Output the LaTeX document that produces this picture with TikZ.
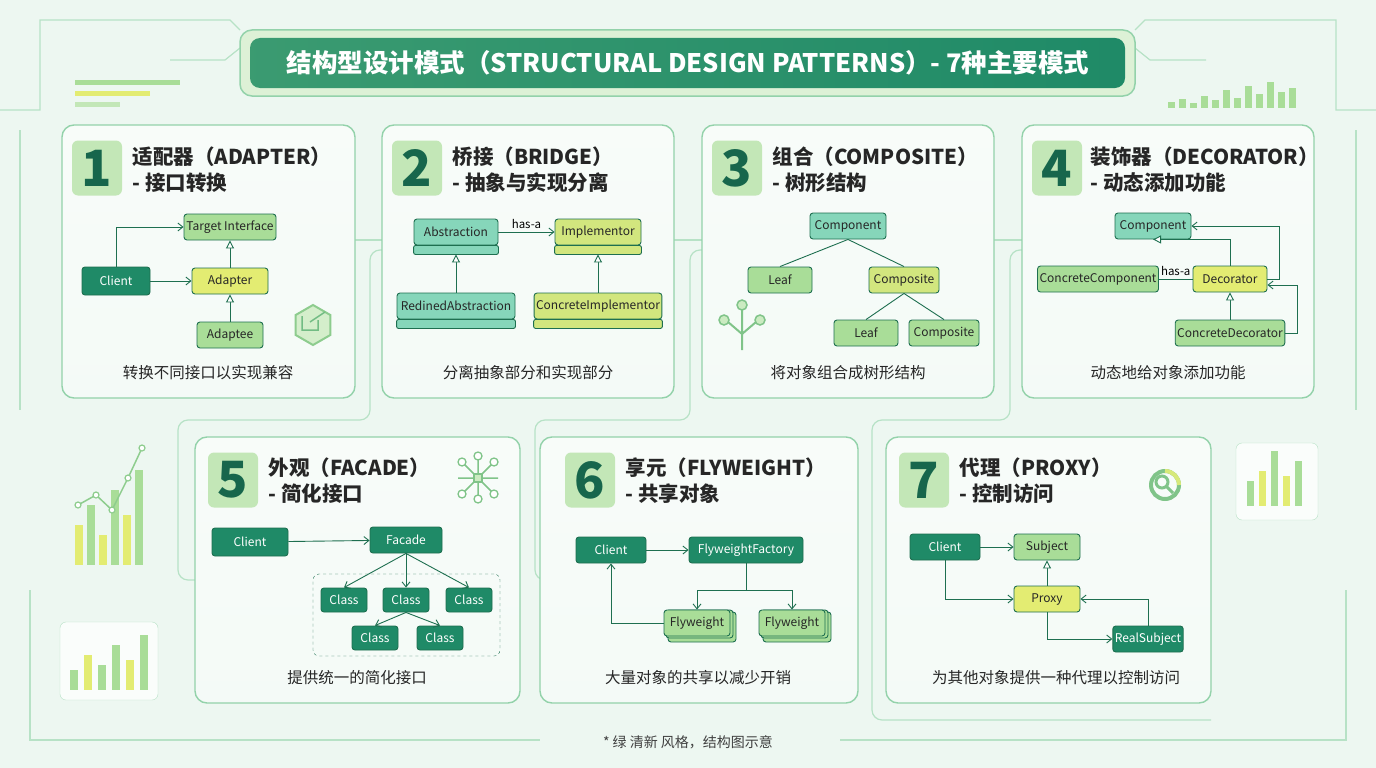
\documentclass[tikz,border=0pt]{standalone}
\usepackage{fontspec}
\setmainfont{Noto Sans CJK SC}
\usetikzlibrary{arrows.meta,positioning,calc,shapes.geometric}
\definecolor{dk}{HTML}{1F8A67}
\definecolor{dkb}{HTML}{17664C}
\definecolor{lg}{HTML}{A9DD98}
\definecolor{yl}{HTML}{E3EC72}
\definecolor{mt}{HTML}{86D6BA}
\definecolor{lm}{HTML}{D2E67E}
\definecolor{pb}{HTML}{93D2AA}
\definecolor{ln}{HTML}{1E6F50}
\definecolor{bg}{HTML}{EDF7F1}
\definecolor{deco}{HTML}{B7E2C6}
\tikzset{
 panel/.style={draw=pb,line width=1.4pt,rounded corners=12pt,top color=white!60!bg,bottom color=bg!90!pb!40},
 badge/.style={rounded corners=6pt,fill=lg!70!white,text=dkb,font=\fontsize{50}{50}\selectfont\bfseries,minimum width=50pt,minimum height=55pt,inner sep=0pt},
 ptitle/.style={anchor=west,font=\fontsize{20.5}{26}\selectfont\bfseries,text=black!85,align=left},
 captxt/.style={font=\fontsize{15.5}{18}\selectfont,text=black!85},
 bx/.style={draw=ln,line width=0.9pt,rounded corners=3pt,minimum height=26pt,inner sep=2pt,font=\fontsize{12}{13}\selectfont},
 dkbox/.style={bx,fill=dk,text=white},
 lgbox/.style={bx,fill=lg,text=black!85},
 ylbox/.style={bx,fill=yl,text=black!85},
 mtbox/.style={bx,fill=mt,text=black!85},
 lmbox/.style={bx,fill=lm,text=black!85},
 ar/.style={draw=ln,line width=0.9pt,-{Straight Barb[length=5pt,width=8pt]}},
 inh/.style={draw=ln,line width=0.9pt,-{Triangle[open,length=8pt,width=8pt,fill=white]}},
 pl/.style={draw=ln,line width=0.9pt},
 dl/.style={draw=deco,line width=1.2pt},
}
\begin{document}
\begin{tikzpicture}[x=1pt,y=-1pt]
\useasboundingbox (0,0) rectangle (1376,768);
\fill[bg] (0,0) rectangle (1376,768);
% decorative circuit lines
\draw[dl] (0,110) -- (40,110) -- (40,20) -- (230,20) -- (240,30);
\draw[dl] (20,130) -- (20,410) ; \draw[dl] (1356,130) -- (1356,410);
\draw[dl] (1376,110) -- (1336,110) -- (1336,20) -- (1145,20) -- (1135,30);
\draw[dl] (170,60) -- (225,60) -- (240,48); \draw[dl] (1206,60) -- (1150,60) -- (1135,48);
\draw[dl] (30,590) -- (30,740) -- (540,740); \draw[dl] (1346,590) -- (1346,740) -- (840,740);
\fill[lg] (75,80) rectangle (180,85); \fill[yl] (75,91) rectangle (150,96); \fill[lg!70] (75,102) rectangle (120,107);
\foreach \i/\h in {0/6,1/9,2/5,3/12,4/8,5/18,6/10,7/22,8/14,9/26,10/16,11/20}
 \fill[lg] (1168+\i*11,108-\h) rectangle ++(7,\h);
% left chart
\foreach \i/\h/\c in {0/40/yl,1/60/lg,2/30/yl,3/75/lg,4/50/yl,5/95/lg}
 \fill[\c] (75+\i*12,565-\h) rectangle ++(8,\h);
\draw[lg!80!dk,line width=1.5pt] (78,505) -- (96,495) -- (112,510) -- (128,478) -- (142,448);
\foreach \p in {(78,505),(96,495),(112,510),(128,478),(142,448)} \draw[lg!80!dk,fill=white,line width=1.2pt] \p circle (3);
\draw[deco,fill=white!70!bg,rounded corners=6pt] (60,622) rectangle (158,700);
\foreach \i/\h/\c in {0/20/lg,1/35/yl,2/25/lg,3/45/lg,4/30/yl,5/55/lg}
 \fill[\c] (70+\i*14,690-\h) rectangle ++(8,\h);
\draw[deco,fill=white!70!bg,rounded corners=6pt] (1236,443) rectangle (1318,520);
\foreach \i/\h/\c in {0/25/lg,1/35/yl,2/55/lg,3/30/yl,4/45/lg}
 \fill[\c] (1247+\i*12,506-\h) rectangle ++(7,\h);
% connector lines between panels
\draw[dl] (355,240) -- (382,240); \draw[dl] (674,240) -- (702,240); \draw[dl] (994,240) -- (1022,240);
\draw[dl,rounded corners=10pt] (382,250) -- (370,250) -- (370,420) -- (178,420) -- (178,580) -- (195,580);
\draw[dl,rounded corners=10pt] (702,250) -- (690,250) -- (690,420) -- (535,420) -- (535,580) -- (540,580);
\draw[dl,rounded corners=10pt] (1022,250) -- (1010,250) -- (1010,420) -- (872,420) -- (872,720) -- (1211,720);
% title banner
\draw[draw=pb,line width=1.5pt,fill=lg!40!white,rounded corners=12pt] (240,30) rectangle (1135,96);
\shade[left color=dk!80!lg,right color=dk,rounded corners=10pt] (250,38) rectangle (1125,88);
\node[text=white,font=\fontsize{25.5}{28}\selectfont\bfseries] (title) at (688,63) {结构型设计模式（STRUCTURAL DESIGN PATTERNS）- 7种主要模式};
% panels
\draw[panel] (62,125) rectangle (355,398);
\draw[panel] (382,125) rectangle (674,398);
\draw[panel] (702,125) rectangle (994,398);
\draw[panel] (1022,125) rectangle (1314,398);
\draw[panel] (195,437) rectangle (520,703);
\draw[panel] (540,437) rectangle (858,703);
\draw[panel] (886,437) rectangle (1211,703);
% badges and titles
\node[badge] (b1) at (97,168) {1}; \node[ptitle] (t1) at (129,170) {适配器（ADAPTER）\\- 接口转换};
\node[badge] (b2) at (417,168) {2}; \node[ptitle] (t2) at (449,170) {桥接（BRIDGE）\\- 抽象与实现分离};
\node[badge] (b3) at (737,168) {3}; \node[ptitle] (t3) at (769,170) {组合（COMPOSITE）\\- 树形结构};
\node[badge] (b4) at (1057,168) {4}; \node[ptitle] (t4) at (1087,170) {装饰器（DECORATOR）\\- 动态添加功能};
\node[badge] (b5) at (233,480) {5}; \node[ptitle] (t5) at (265,481) {外观（FACADE）\\- 简化接口};
\node[badge] (b6) at (590,480) {6}; \node[ptitle] (t6) at (622,481) {享元（FLYWEIGHT）\\- 共享对象};
\node[badge] (b7) at (924,480) {7}; \node[ptitle] (t7) at (956,481) {代理（PROXY）\\- 控制访问};
% captions
\node[captxt] (c1) at (208,373) {转换不同接口以实现兼容};
\node[captxt] (c2) at (528,373) {分离抽象部分和实现部分};
\node[captxt] (c3) at (848,373) {将对象组合成树形结构};
\node[captxt] (c4) at (1168,373) {动态地给对象添加功能};
\node[captxt] (c5) at (357,678) {提供统一的简化接口};
\node[captxt] (c6) at (698,678) {大量对象的共享以减少开销};
\node[captxt] (c7) at (1056,678) {为其他对象提供一种代理以控制访问};
\node[font=\fontsize{14}{16}\selectfont,text=black!75] (foot) at (688,742) {* 绿 清新 风格，结构图示意};
% ---- panel 1
\node[lgbox,minimum width=92pt] (ti) at (230,227) {Target Interface};
\node[dkbox,minimum width=68pt,minimum height=28pt] (cl1) at (116,281) {Client};
\node[ylbox,minimum width=76pt] (ad) at (230,281) {Adapter};
\node[lgbox,minimum width=66pt] (ae) at (230,335) {Adaptee};
\draw[ar] (cl1.north) |- (ti.west);
\draw[ar] (cl1) -- (ad);
\draw[inh] (ad) -- (ti);
\draw[inh] (ae) -- (ad);
\node[regular polygon,regular polygon sides=6,draw=lg!80!dk,line width=2pt,fill=lg!50!white,minimum size=40pt,rotate=30] (ic1) at (313,325) {};
\draw[lg!60!dk,line width=1.5pt] (302,316) -- (302,330) -- (318,330) -- (318,320) (310,322) -- (325,312);
% ---- panel 2
\node[mtbox,minimum width=84pt] (abs) at (456,232) {Abstraction};
\node[lmbox,minimum width=86pt] (imp) at (598,232) {Implementor};
\node[mtbox,minimum width=118pt] (ra) at (456,306) {RedinedAbstraction};
\node[lmbox,minimum width=118pt] (ci) at (598,306) {ConcreteImplementor};
\foreach \n/\c in {abs/mt,imp/lm,ra/mt,ci/lm}
 \draw[draw=ln,line width=0.9pt,fill=\c,rounded corners=2pt] (\n.south west) rectangle ([yshift=-9pt]\n.south east);
\draw[ar] (abs.east) -- node[above,font=\fontsize{11.5}{12}\selectfont] {has-a} (imp.west);
\draw[inh] (ra.north) -- ([yshift=-9pt]abs.south);
\draw[inh] (ci.north) -- ([yshift=-9pt]imp.south);
% ---- panel 3
\node[mtbox,minimum width=76pt] (co) at (848,226) {Component};
\node[lgbox,minimum width=64pt] (lf1) at (780,280) {Leaf};
\node[lmbox,minimum width=70pt] (cp1) at (904,280) {Composite};
\node[lgbox,minimum width=64pt] (lf2) at (866,333) {Leaf};
\node[lgbox,minimum width=70pt] (cp2) at (944,333) {Composite};
\draw[pl] (co.south) -- (lf1.north); \draw[pl] (co.south) -- (cp1.north);
\draw[pl] (cp1.south) -- (lf2.north); \draw[pl] (cp1.south) -- (cp2.north);
\draw[lg!70!dk,line width=2pt] (742,350) -- (742,318) (742,334) -- (728,322) (742,334) -- (756,322) (742,318) -- (742,308);
\foreach \p in {(724,320),(760,320),(742,305)} \draw[lg!70!dk,fill=lg!60!white,line width=1.5pt] \p circle (5);
% ---- panel 4
\node[mtbox,minimum width=76pt] (co4) at (1153,226) {Component};
\node[lgbox,minimum width=110pt] (cc) at (1098,279) {ConcreteComponent};
\node[ylbox,minimum width=74pt] (de) at (1230,279) {Decorator};
\node[lgbox,minimum width=104pt] (cd) at (1230,333) {ConcreteDecorator};
\draw[pl] (cc.east) -- node[above,font=\fontsize{11.5}{12}\selectfont] {has-a} (de.west);
\draw[inh] (de.north) |- (co4.south);
\draw[inh] (cd.north) -- (de.south);
\draw[ar] (de.east) -- ++(12,0) |- (co4.east);
\draw[ar] (cd.east) -- ++(12,0) |- ([yshift=-6pt]de.east);
% ---- panel 5
\node[dkbox,minimum width=76pt,minimum height=28pt] (cl5) at (250,542) {Client};
\node[dkbox,minimum width=72pt] (fa) at (406,540) {Facade};
\draw[ar] (cl5) -- (fa);
\node[draw=ln,dashed,rounded corners=6pt,minimum width=187pt,minimum height=82pt] (grp) at (406.5,615) {};
\node[dkbox,minimum width=46pt,minimum height=24pt] (k1) at (344,600) {Class};
\node[dkbox,minimum width=46pt,minimum height=24pt] (k2) at (406,600) {Class};
\node[dkbox,minimum width=46pt,minimum height=24pt] (k3) at (469,600) {Class};
\node[dkbox,minimum width=46pt,minimum height=24pt] (k4) at (375,638) {Class};
\node[dkbox,minimum width=46pt,minimum height=24pt] (k5) at (440,638) {Class};
\draw[ar] (fa.south) -- (k1.north); \draw[ar] (fa.south) -- (k2.north); \draw[ar] (fa.south) -- (k3.north);
\draw[ar] (k2.south) -- (k4.north); \draw[ar] (k2.south) -- (k5.north);
\draw[lg!70!dk,line width=1.5pt] (478,478) -- (462,462) (478,478) -- (494,462) (478,478) -- (478,458) (478,478) -- (462,494) (478,478) -- (494,494) (478,478) -- (478,498) (458,478) -- (498,478);
\foreach \p in {(462,462),(494,462),(478,456),(462,494),(494,494),(478,499)} \draw[lg!70!dk,fill=white,line width=1.3pt] \p circle (4);
\draw[lg!70!dk,fill=lg!60!white,line width=1.3pt] (474,474) rectangle (482,482);
% ---- panel 6
\node[dkbox,minimum width=70pt] (cl6) at (611,550) {Client};
\node[dkbox,minimum width=114pt] (ff) at (746,550) {FlyweightFactory};
\draw[ar] (cl6) -- (ff);
\foreach \x/\n in {697/fw1,792/fw2}{
 \draw[draw=ln,line width=0.9pt,fill=lg,rounded corners=3pt] (\x-29,612) rectangle (\x+39,642);
 \draw[draw=ln,line width=0.9pt,fill=lg,rounded corners=3pt] (\x-31,610) rectangle (\x+36,638);
 \node[lgbox,minimum width=66pt] (\n) at (\x,623) {Flyweight};}
\coordinate (sp) at (746,590);
\draw[pl] (ff.south) -- (sp);
\draw[ar] (sp) -| (fw1.north); \draw[ar] (sp) -| (fw2.north);
\draw[ar] (fw1.west) -| (cl6.south);
% ---- panel 7
\node[dkbox,minimum width=70pt] (cl7) at (945,547) {Client};
\node[lgbox,minimum width=66pt] (sj) at (1047,547) {Subject};
\node[ylbox,minimum width=66pt] (px) at (1047,599) {Proxy};
\node[dkbox,minimum width=70pt] (rs) at (1148,639) {RealSubject};
\draw[ar] (cl7) -- (sj);
\draw[ar] (cl7.south) |- (px.west);
\draw[inh] (px) -- (sj);
\draw[ar] (px.south) |- (rs.west);
\draw[ar] (rs.north) |- (px.east);
\draw[lg!70!dk,line width=4pt] (1165,485) circle (14);
\draw[yl!80!lg,line width=4pt] (1165,471) arc (-90:0:14);
\draw[lg!70!dk,line width=3pt] (1162,482) circle (6) (1166,486) -- (1173,493);
\end{tikzpicture}
\end{document}
